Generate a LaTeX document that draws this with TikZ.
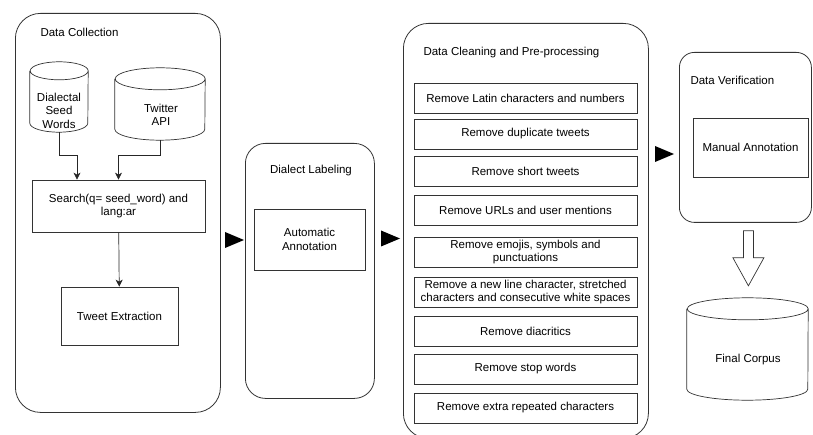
\documentclass[tikz,border=0pt]{standalone}
\usepackage{fontspec}
\setmainfont{Liberation Sans}
\usetikzlibrary{arrows.meta,calc}
\begin{document}
\begin{tikzpicture}[x=1pt,y=-1pt,
  font=\fontsize{11.5}{13.5}\selectfont,
  stage/.style={draw=black!80, line width=0.8pt, rounded corners=#1, anchor=north west, inner sep=0pt},
  stepbox/.style={draw=black!80, line width=0.7pt, align=center, inner sep=2pt},
  storebox/.style={inner sep=0pt},
  storeline/.style={draw=black!80, line width=0.7pt},
  flow/.style={arrows=-{Stealth[length=7pt,width=7pt,inset=2pt]}, line width=0.7pt, draw=black!85}]
  \useasboundingbox (0,0) rectangle (813,435);

  % stage frames
  \node[stage=25pt, minimum width=205pt, minimum height=399pt] (collect) at (15,13) {};
  \node[stage=20pt, minimum width=129pt, minimum height=255pt] (dlabel) at (245,143) {};
  \node[stage=25pt, minimum width=245pt, minimum height=415pt] (clean) at (403,23) {};
  \node[stage=15pt, minimum width=132pt, minimum height=170pt] (verif) at (679,52) {};

  % stage titles
  \node[anchor=west] (collecttitle) at (37,32) {Data Collection};
  \node (dlabeltitle) at (311,171) {Dialect Labeling};
  \node[anchor=west] (cleantitle) at (420,53) {Data Cleaning and Pre-processing};
  \node[anchor=west] (veriftitle) at (687,80) {Data Verification};

  % data collection
  \node[storebox, minimum width=58pt, minimum height=70pt] (seeds) at (59,97) {};
  \draw[storeline] ([yshift=-9pt]seeds.north west) -- ([yshift=9pt]seeds.south west)
    arc[start angle=180, end angle=360, x radius=29pt, y radius=9pt] -- ([yshift=-9pt]seeds.north east)
    arc[start angle=0, end angle=180, x radius=29pt, y radius=9pt]
    arc[start angle=180, end angle=360, x radius=29pt, y radius=9pt];
  \node[align=center] (seedstext) at (59,110.5) {Dialectal\\Seed\\Words};
  \node[storebox, minimum width=90pt, minimum height=72pt] (twitter) at (160,104) {};
  \draw[storeline] ([yshift=-11pt]twitter.north west) -- ([yshift=11pt]twitter.south west)
    arc[start angle=180, end angle=360, x radius=45pt, y radius=11pt] -- ([yshift=-11pt]twitter.north east)
    arc[start angle=0, end angle=180, x radius=45pt, y radius=11pt]
    arc[start angle=180, end angle=360, x radius=45pt, y radius=11pt];
  \node[align=center] (twittertext) at (161,115) {Twitter\\API};
  \node[stepbox, minimum width=173pt, minimum height=52pt] (search) at (118.5,206) {Search(q= seed\_word) and\\lang:ar};
  \node[stepbox, minimum width=117pt, minimum height=58pt] (tweets) at (119.5,316) {Tweet Extraction};
  \draw[flow] (seeds.south) -- ++(0,23) -| ([xshift=-41.5pt]search.north);
  \draw[flow] (twitter.south) -- ++(0,15) -| (search.north);
  \draw[flow] (search) -- (tweets);

  % dialect labeling
  \node[stepbox, minimum width=111pt, minimum height=61pt] (auto) at (309.5,239.5) {Automatic\\Annotation};

  % data cleaning
  \node[stepbox, minimum width=223pt, minimum height=30pt] (c1) at (525.5,98) {Remove Latin characters and numbers};
  \node[stepbox, minimum width=223pt, minimum height=30pt] (c2) at (525.5,134) {Remove duplicate tweets};
  \node[stepbox, minimum width=223pt, minimum height=30pt] (c3) at (525.5,171.5) {Remove short tweets};
  \node[stepbox, minimum width=223pt, minimum height=30pt] (c4) at (525.5,210) {Remove URLs and user mentions};
  \node[stepbox, minimum width=223pt, minimum height=30pt] (c5) at (525.5,252) {Remove emojis, symbols and\\punctuations};
  \node[stepbox, minimum width=223pt, minimum height=30pt, inner sep=0.5pt] (c6) at (525.5,292) {Remove a new line character, stretched\\characters and consecutive white spaces};
  \node[stepbox, minimum width=223pt, minimum height=30pt] (c7) at (525.5,331) {Remove diacritics};
  \node[stepbox, minimum width=223pt, minimum height=30pt] (c8) at (525.5,369) {Remove stop words};
  \node[stepbox, minimum width=223pt, minimum height=30pt] (c9) at (525.5,408) {Remove extra repeated characters};

  % data verification
  \node[stepbox, minimum width=115pt, minimum height=59pt] (manual) at (750.5,147.5) {Manual Annotation};
  \node[storebox, minimum width=121pt, minimum height=102pt] (corpus) at (747.5,349) {};
  \draw[storeline] ([yshift=-11pt]corpus.north west) -- ([yshift=11pt]corpus.south west)
    arc[start angle=180, end angle=360, x radius=60.5pt, y radius=11pt] -- ([yshift=-11pt]corpus.north east)
    arc[start angle=0, end angle=180, x radius=60.5pt, y radius=11pt]
    arc[start angle=180, end angle=360, x radius=60.5pt, y radius=11pt];
  \node (corpustext) at (748,360) {Final Corpus};

  % flow between stages
  \fill ([xshift=-1pt]dlabel.west |- 0,240) -- ++(-19,-8) -- ++(0,16) -- cycle;
  \fill ([xshift=-3pt]clean.west |- 0,238.5) -- ++(-19,-8) -- ++(0,16) -- cycle;
  \fill ([xshift=-5pt]verif.west |- 0,154) -- ++(-19,-8) -- ++(0,16) -- cycle;
  \draw[draw=black!80, line width=0.7pt] ($(verif.south)+(-2,8)$) -- ++(10,0) -- ++(0,27) -- ++(10.5,0)
    -- ++(-15.5,28) -- ++(-15.5,-28) -- ++(10.5,0) -- cycle;
\end{tikzpicture}
\end{document}
